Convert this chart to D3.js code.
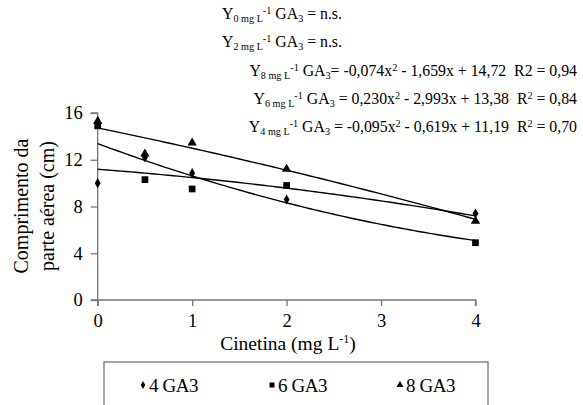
<!DOCTYPE html>
<html><head><meta charset="utf-8">
<script src="https://cdn.jsdelivr.net/npm/d3@7/dist/d3.min.js"></script>
<style>body{margin:0;background:#fff}svg{display:block}</style>
</head><body><svg id="c" width="583" height="405"></svg>
<script>
const xValues = [0, 0.5, 1, 2, 4];
const seriesNames = ["4 GA3", "6 GA3", "8 GA3"];
const ga4 = [10.0, 12.2, 10.85, 8.6, 7.4];
const ga6 = [14.9, 10.3, 9.5, 9.8, 4.9];
const ga8 = [15.3, 12.5, 13.45, 11.2, 6.75];
// regression coefficients shown in the chart: a x^2 + b x + c
const fit4 = [-0.095, -0.619, 11.19];
const fit6 = [0.230, -2.993, 13.38];
const fit8 = [-0.074, -1.659, 14.72];
const xTicks = [0, 1, 2, 3, 4];
const yTicks = [0, 4, 8, 12, 16];

const FONT = "Liberation Serif";
const svg = d3.select("#c");
const x = d3.scaleLinear().domain([0, 4]).range([97.7, 475.5]);
const y = d3.scaleLinear().domain([0, 16]).range([300, 113]);
const axisColor = "#777";

// axes
const gx = svg.append("g").attr("transform", `translate(0,${y(0)})`)
  .call(d3.axisBottom(x).tickValues(xTicks).tickSize(6).tickPadding(8).tickFormat(d3.format("d")));
const gy = svg.append("g").attr("transform", `translate(${x(0)},0)`)
  .call(d3.axisLeft(y).tickValues(yTicks).tickSize(7).tickPadding(8).tickFormat(d3.format("d")));
[gx, gy].forEach(g => {
  g.attr("font-family", FONT).attr("font-size", 18.5);
  g.select(".domain").attr("stroke", axisColor).attr("stroke-width", 1.3);
  g.selectAll(".tick line").attr("stroke", axisColor).attr("stroke-width", 1.3);
  g.selectAll(".tick text").attr("font-family", FONT).attr("font-size", 18.5).attr("fill", "#000");
});
gx.select(".domain").attr("d", `M${x(0)},6V0H${x(4)}V6`);
gy.select(".domain").attr("d", `M-7,${y(16)}H0V${y(0)}H-7`);

// trend lines
const fits = [fit4, fit6, fit8];
const samples = d3.range(0, 4.0001, 0.05);
const line = d3.line().x(d => x(d[0])).y(d => y(d[1]));
fits.forEach(f => {
  svg.append("path")
    .attr("d", line(samples.map(t => [t, f[0]*t*t + f[1]*t + f[2]])))
    .attr("fill", "none").attr("stroke", "#000").attr("stroke-width", 1.4);
});

// points
const symbols = [d3.symbolDiamond, d3.symbolSquare, d3.symbolTriangle];
const sizes = [30, 45, 38];
const series = [ga4, ga6, ga8];
series.forEach((vals, i) => {
  svg.append("g").selectAll("path").data(vals).join("path")
    .attr("transform", (d, j) => `translate(${x(xValues[j])},${y(d)})`)
    .attr("d", d3.symbol().type(symbols[i]).size(sizes[i]))
    .attr("fill", "#000");
});

// axis titles
const xt = svg.append("text").attr("x", 288).attr("y", 350).attr("text-anchor", "middle")
  .attr("font-family", FONT).attr("font-size", 19.5);
xt.append("tspan").text("Cinetina (mg L");
xt.append("tspan").attr("dy", -7).attr("font-size", 12).text("-1");
xt.append("tspan").attr("dy", 7).text(")");

const yt = svg.append("text").attr("transform", "translate(0,206) rotate(-90)").attr("text-anchor", "middle")
  .attr("font-family", FONT).attr("font-size", 20);
yt.append("tspan").attr("x", 0).attr("y", 28).text("Comprimento da");
yt.append("tspan").attr("x", 0).attr("y", 54).text("parte aérea (cm)");

// equations
const NB = "\u00A0";
function eq(xp, yp, anchor, parts) {
  const t = svg.append("text").attr("x", xp).attr("y", yp).attr("text-anchor", anchor)
    .attr("font-family", FONT).attr("font-size", 15.8);
  parts.forEach(p => {
    const s = t.append("tspan").text(p[0]);
    if (p[1] === "sub") s.attr("baseline-shift", "-25%").attr("font-size", 10.2);
    if (p[1] === "sup") s.attr("baseline-shift", "55%").attr("font-size", 10.2);
  });
}
eq(222, 19, "start", [["Y"], ["0 mg L", "sub"], ["-1", "sup"], [" GA"], ["3", "sub"], [" = n.s."]]);
eq(222, 47, "start", [["Y"], ["2 mg L", "sub"], ["-1", "sup"], [" GA"], ["3", "sub"], [" = n.s."]]);
eq(577, 76, "end", [["Y"], ["8 mg L", "sub"], ["-1", "sup"], [" GA"], ["3", "sub"], ["= -0,074x"], ["2", "sup"], [" - 1,659x + 14,72 " + NB + "R2 = 0,94"]]);
eq(577, 104, "end", [["Y"], ["6 mg L", "sub"], ["-1", "sup"], [" GA"], ["3", "sub"], [" = 0,230x"], ["2", "sup"], [" - 2,993x + 13,38 " + NB + "R"], ["2", "sup"], [" = 0,84"]]);
eq(577, 132, "end", [["Y"], ["4 mg L", "sub"], ["-1", "sup"], [" GA"], ["3", "sub"], [" = -0,095x"], ["2", "sup"], [" - 0,619x + 11,19 " + NB + "R"], ["2", "sup"], [" = 0,70"]]);

// legend
svg.append("rect").attr("x", 104).attr("y", 362).attr("width", 384).attr("height", 60)
  .attr("fill", "none").attr("stroke", axisColor).attr("stroke-width", 1.3);
const legX = [143, 272, 400];
seriesNames.forEach((n, i) => {
  svg.append("path").attr("transform", `translate(${legX[i]},385)`)
    .attr("d", d3.symbol().type(symbols[i]).size([18, 25, 22][i])).attr("fill", "#000");
  svg.append("text").attr("x", legX[i] + 6).attr("y", 391.5).attr("font-family", FONT).attr("font-size", 19)
    .attr("letter-spacing", -0.4).text(n);
});
</script></body></html>
